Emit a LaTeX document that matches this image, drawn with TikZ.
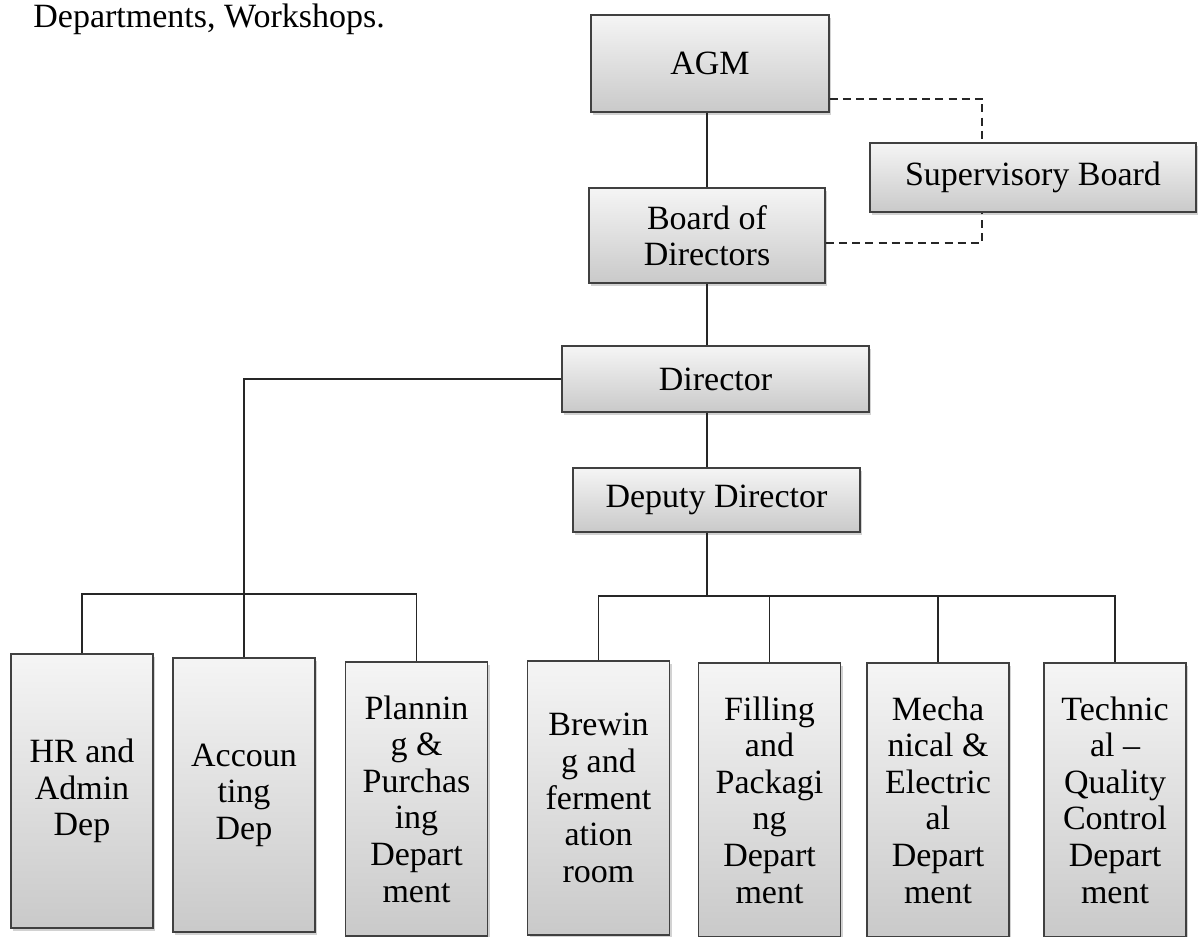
\documentclass[tikz,border=0pt]{standalone}
\usepackage{fontspec}
\setmainfont{Liberation Serif}
\usetikzlibrary{calc,shadows}
\tikzstyle{ob} = [rectangle,draw=black!75,line width=0.7pt,top color=gray!8,bottom color=gray!42,drop shadow={shadow xshift=1.2pt,shadow yshift=-1.4pt,opacity=0.35},align=center,inner sep=1pt]
\tikzstyle{od} = [ob,minimum width=71pt,minimum height=137pt]
\tikzstyle{ln} = [line width=0.9pt,black!85]
\tikzstyle{lnd} = [ln,dash pattern=on 4pt off 2.6pt]

\begin{document}
\begin{tikzpicture}[x=0.5pt,y=-0.5pt,font=\fontsize{17}{18.3}\selectfont]
  \useasboundingbox[fill=white] (0,0) rectangle (1198,936);
  \node[anchor=base west,inner sep=0] (intro) at (33,28) {Departments, Workshops.};
  % top of the chart
  \node[ob,minimum width=119pt,minimum height=48.5pt] (agm) at (710,63.5) {AGM};
  \node[ob,minimum width=118pt,minimum height=47.5pt] (bod) at (707,235.5) {Board of\\Directors};
  \node[ob,minimum width=163pt,minimum height=34.5pt] (sup) at (1033,177.5) {Supervisory Board};
  \node[ob,minimum width=153.5pt,minimum height=33pt] (dir) at (715.5,379) {Director};
  \node[ob,minimum width=143.5pt,minimum height=32pt] (dep) at (716.5,500) {Deputy Director};
  % admin side
  \node[od] (hr) at (82,791) {HR and\\Admin\\Dep};
  \node[od] (acc) at ($(hr)+(162,4)$) {Accoun\\ting\\Dep};
  \node[od] (plan) at ($(acc)+(172.5,4)$) {Plannin\\g \&\\Purchas\\ing\\Depart\\ment};
  % production side
  \node[od] (brew) at (598.5,798) {Brewin\\g and\\ferment\\ation\\room};
  \node[od] (fill) at ($(brew)+(171,2)$) {Filling\\and\\Packagi\\ng\\Depart\\ment};
  \node[od] (mech) at ($(fill)+(168.5,0)$) {Mecha\\nical \&\\Electric\\al\\Depart\\ment};
  \node[od] (tech) at ($(mech)+(177,0)$) {Technic\\al --\\Quality\\Control\\Depart\\ment};
  % connectors
  \coordinate (spine) at (707,0);
  \coordinate (lbus) at (0,594);
  \coordinate (rbus) at (0,596);
  \draw[ln] (agm.south -| spine) -- (bod.north -| spine);
  \draw[ln] (bod.south -| spine) -- (dir.north -| spine);
  \draw[ln] (dir.south -| spine) -- (dep.north -| spine);
  \draw[lnd] ($(agm.south east)+(0,-14)$) -| ($(sup.north west)+(113,0)$);
  \draw[lnd] ($(bod.south east)+(0,-41)$) -| ($(sup.south west)+(113,0)$);
  \draw[ln] (dir.west) -| (acc.north);
  \draw[ln] (hr.north) -- (hr.north |- lbus) -- (plan.north |- lbus) -- (plan.north);
  \draw[ln] (dep.south -| spine) -- (spine |- rbus);
  \draw[ln] (brew.north) -- (brew.north |- rbus) -- (tech.north |- rbus) -- (tech.north);
  \foreach \n in {fill,mech} \draw[ln] (\n.north) -- (\n.north |- rbus);
\end{tikzpicture}
\end{document}
